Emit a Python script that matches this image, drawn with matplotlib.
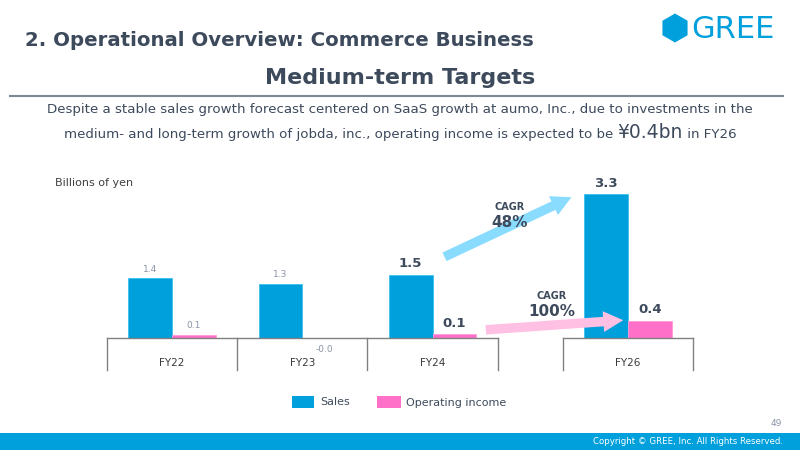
import matplotlib
matplotlib.use("Agg")
import matplotlib.pyplot as plt
from matplotlib.patches import FancyArrowPatch, Polygon, Rectangle
import numpy as np

# ---- data ----
categories = ["FY22", "FY23", "FY24", "FY26"]
sales = [1.37, 1.25, 1.45, 3.3]
op_income = [0.07, -0.01, 0.09, 0.39]
sales_labels = ["1.4", "1.3", "1.5", "3.3"]
op_labels = ["0.1", "-0.0", "0.1", "0.4"]
bold_flags = [False, False, True, True]
x_pos = [0, 1, 2, 3.5]
cagr_texts = [("CAGR", "48%"), ("CAGR", "100%")]

W, H = 800, 450
DARK = "#3d4a5c"
BLUE = "#00a0dc"
PINK = "#ff71c9"
GRAY = "#8a94a6"

fig = plt.figure(figsize=(8, 4.5), dpi=100)
fig.patch.set_facecolor("white")

def fx(x):
    return x / W

def fy(y):
    return 1 - y / H

# ---- axes ----
k = 43.6  # px per unit
base = 338
ax_top, ax_bot = 180, 370
ax = fig.add_axes([fx(107), fy(ax_bot), 586 / W, (ax_bot - ax_top) / H])
ax.set_xlim(-0.5, 4.0)
ax.set_ylim(-(ax_bot - base) / k, (base - ax_top) / k)
ax.axis("off")

bw = 0.335
xs = np.array(x_pos)
ax.bar(xs - bw / 2, sales, width=bw, color=BLUE, edgecolor="#3cc0f0", linewidth=0.6)
ax.bar(xs + bw / 2, op_income, width=bw, color=PINK, edgecolor="#ff9ad8", linewidth=0.6)

# category boxes
ybot = ax.get_ylim()[0]
for seg in [(-0.5, 2.5), (3.0, 4.0)]:
    ax.plot([seg[0], seg[1]], [0, 0], color="#808080", lw=1.0, clip_on=False)
for xv in [-0.5, 0.5, 1.5, 2.5, 3.0, 4.0]:
    ax.plot([xv, xv], [0, ybot], color="#808080", lw=1.0, clip_on=False)
for x, c in zip(xs, categories):
    ax.text(x, -25 / k, c, ha="center", va="center", fontsize=7.5, color="#3a3a3a")

# value labels
for x, s, o, sl, ol, b in zip(xs, sales, op_income, sales_labels, op_labels, bold_flags):
    if b:
        kw = dict(fontsize=9.5, fontweight="bold", color=DARK)
        off = 11
    else:
        kw = dict(fontsize=6.5, color=GRAY)
        off = 9
    ax.text(x - bw / 2, s + off / k, sl, ha="center", va="center", **kw)
    if o >= 0:
        ax.text(x + bw / 2, o + off / k, ol, ha="center", va="center", **kw)
    else:
        ax.text(x + bw / 2, -11 / k, ol, ha="center", va="center", **kw)

# ---- arrows ----
def arrow(p0, p1, color):
    a = FancyArrowPatch((fx(p0[0]), fy(p0[1])), (fx(p1[0]), fy(p1[1])),
                        transform=fig.transFigure,
                        arrowstyle="simple,head_width=2.3,head_length=2.2,tail_width=1.05",
                        mutation_scale=6.5, color=color, lw=0)
    fig.add_artist(a)

arrow((442, 258), (574, 196), "#8adcff")
arrow((483, 330), (626, 320), "#ffc0e3")

fig.text(fx(510), fy(207), cagr_texts[0][0], ha="center", va="center", fontsize=7, fontweight="bold", color=DARK)
fig.text(fx(510), fy(222), cagr_texts[0][1], ha="center", va="center", fontsize=11, fontweight="bold", color=DARK)
fig.text(fx(552), fy(296), cagr_texts[1][0], ha="center", va="center", fontsize=7, fontweight="bold", color=DARK)
fig.text(fx(552), fy(311), cagr_texts[1][1], ha="center", va="center", fontsize=11, fontweight="bold", color=DARK)

fig.text(fx(55), fy(183), "Billions of yen", ha="left", va="center", fontsize=8, color="#404040")

# ---- header ----
fig.text(fx(25), fy(40), "2. Operational Overview: Commerce Business", ha="left", va="center",
         fontsize=14.2, fontweight="bold", color=DARK)
fig.text(fx(400), fy(78), "Medium-term Targets", ha="center", va="center",
         fontsize=16, fontweight="bold", color=DARK)
fig.add_artist(plt.Line2D([fx(10), fx(783)], [fy(96), fy(96)], transform=fig.transFigure,
                          color="#7f8896", lw=1.5))

fig.text(fx(400), fy(110), "Despite a stable sales growth forecast centered on SaaS growth at aumo, Inc., due to investments in the",
         ha="center", va="center", fontsize=9.6, color=DARK)

# second line with mixed sizes
parts = [("medium- and long-term growth of jobda, inc., operating income is expected to be ", 9.6),
         ("¥0.4bn", 13.5), (" in FY26", 9.6)]
fig.canvas.draw()
r = fig.canvas.get_renderer()
objs = []
widths = []
for t, s in parts:
    o = fig.text(0, fy(138), t, ha="left", va="baseline", fontsize=s, color=DARK)
    bb = o.get_window_extent(renderer=r)
    objs.append(o)
    widths.append(bb.width)
total = sum(widths)
x0 = 400 - total / 2
for o, w in zip(objs, widths):
    o.set_x(fx(x0))
    x0 += w

# ---- logo ----
cx, cy, rad = 675, 28, 14.5
verts = [(fx(cx + rad * np.cos(np.radians(a))), fy(cy - rad * np.sin(np.radians(a))))
         for a in range(90, 450, 60)]
fig.add_artist(Polygon(verts, closed=True, transform=fig.transFigure,
                       facecolor=BLUE, edgecolor="none"))
fig.text(fx(691), fy(29), "GREE", ha="left", va="center", fontsize=22, color=BLUE)

# ---- legend ----
fig.add_artist(Rectangle((fx(292), fy(408)), 22 / W, 12 / H, transform=fig.transFigure,
                         facecolor=BLUE, edgecolor="none"))
fig.text(fx(320), fy(402), "Sales", ha="left", va="center", fontsize=8, color=DARK)
fig.add_artist(Rectangle((fx(377), fy(408)), 24 / W, 12 / H, transform=fig.transFigure,
                         facecolor=PINK, edgecolor="none"))
fig.text(fx(406), fy(403), "Operating income", ha="left", va="center", fontsize=8, color=DARK)

# ---- footer ----
fig.text(fx(782), fy(424), "49", ha="right", va="center", fontsize=6.5, color=GRAY)
fig.add_artist(Rectangle((0, 0), 1, 17 / H, transform=fig.transFigure, facecolor=BLUE, edgecolor="none"))
fig.text(fx(783), fy(442), "Copyright © GREE, Inc. All Rights Reserved.", ha="right", va="center",
         fontsize=6.2, color="white")

fig.savefig("out.png", dpi=100)
